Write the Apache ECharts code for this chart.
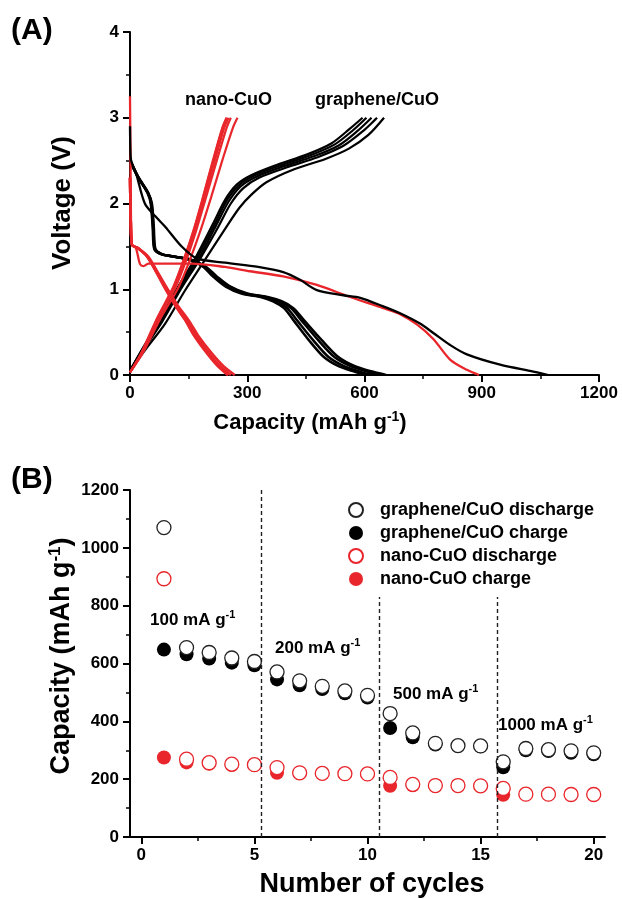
<!DOCTYPE html>
<html lang="en">
<head>
<meta charset="UTF-8">
<title>graphene/CuO vs nano-CuO</title>
<script src="https://cdn.jsdelivr.net/npm/echarts@6/dist/echarts.min.js"></script>
<style>body{margin:0;background:#fff;}</style>
</head>
<body>
<div id="main" style="width:622px;height:899px;"></div>
<script>
// (A) voltage profiles, [capacity, voltage]
var gcDischarge1 = [[0,2.9],[1,2.62],[3,2.5],[15,2.36],[38,2.0],[65,1.85],[90,1.73],[132,1.5],[171,1.36],[243,1.31],[328,1.26],[392,1.2],[435,1.11],[478,0.99],[546,0.93],[589,0.9],[648,0.8],[691,0.72],[742,0.6],[776,0.49],[819,0.35],[862,0.24],[947,0.12],[1032,0.04],[1070,0]];
var gcDischarge2 = [[0,2.5],[21,2.31],[47,2.12],[56,2.0],[61,1.72],[65,1.47],[82,1.41],[116,1.38],[160,1.34],[195,1.26],[222,1.15],[257,1.03],[300,0.95],[352,0.91],[388,0.86],[418,0.78],[445,0.64],[490,0.41],[533,0.21],[577,0.1],[620,0.04],[655,0]];
var gcDischarge3 = [[0,2.5],[21,2.31],[47,2.12],[55,2.0],[60,1.72],[64,1.47],[81,1.41],[115,1.38],[158,1.34],[193,1.26],[219,1.15],[254,1.03],[296,0.95],[347,0.91],[382,0.86],[412,0.78],[438,0.64],[481,0.41],[523,0.21],[566,0.1],[607,0.04],[640,0]];
var gcDischarge4 = [[0,2.5],[20,2.31],[46,2.12],[54,2.0],[59,1.72],[63,1.47],[80,1.41],[114,1.38],[156,1.34],[190,1.26],[215,1.15],[249,1.03],[290,0.95],[340,0.91],[373,0.86],[402,0.78],[427,0.64],[468,0.41],[508,0.21],[549,0.1],[588,0.04],[620,0]];
var gcDischarge5 = [[0,2.5],[20,2.31],[45,2.12],[53,2.0],[58,1.72],[62,1.47],[79,1.41],[113,1.38],[155,1.34],[188,1.26],[212,1.15],[245,1.03],[285,0.95],[334,0.91],[366,0.86],[394,0.78],[418,0.64],[457,0.41],[496,0.21],[535,0.1],[574,0.04],[605,0]];

var gcCharge1 = [[0,0.05],[40,0.3],[90,0.6],[140,0.98],[190,1.33],[240,1.68],[280,1.95],[310,2.1],[350,2.25],[420,2.4],[500,2.52],[560,2.64],[610,2.8],[650,3.0]];
var gcCharge2 = [[0,0.05],[35,0.3],[82,0.62],[130,1.0],[180,1.36],[225,1.72],[258,2.0],[290,2.18],[330,2.3],[400,2.42],[480,2.54],[545,2.67],[595,2.84],[632,3.0]];
var gcCharge3 = [[0,0.05],[33,0.3],[80,0.63],[127,1.0],[176,1.36],[220,1.74],[252,2.02],[283,2.2],[322,2.31],[390,2.43],[470,2.55],[535,2.68],[583,2.85],[618,3.0]];
var gcCharge4 = [[0,0.05],[32,0.3],[78,0.64],[124,1.01],[172,1.37],[216,1.75],[247,2.03],[278,2.21],[316,2.32],[382,2.44],[460,2.56],[524,2.69],[572,2.86],[605,3.0]];
var gcCharge5 = [[0,0.05],[31,0.3],[76,0.64],[122,1.02],[169,1.38],[212,1.76],[243,2.04],[273,2.22],[310,2.33],[375,2.45],[452,2.57],[515,2.7],[562,2.87],[595,3.0]];

var nanoDischarge1 = [[0,3.25],[1,2.7],[2,2.1],[3,1.7],[5,1.52],[15,1.48],[26,1.29],[35,1.27],[47,1.3],[158,1.3],[243,1.26],[307,1.21],[392,1.15],[478,1.05],[563,0.91],[648,0.78],[691,0.71],[734,0.59],[776,0.42],[819,0.18],[862,0.06],[893,0]];
var nanoDischarge2 = [[0,2.3],[2,1.8],[5,1.52],[21,1.48],[47,1.38],[72,1.19],[98,0.99],[124,0.8],[150,0.64],[176,0.45],[210,0.25],[240,0.1],[268,0]];
var nanoDischarge3 = [[0,2.3],[2,1.8],[5,1.52],[20,1.48],[45,1.38],[70,1.19],[95,0.99],[120,0.8],[145,0.64],[170,0.45],[203,0.25],[232,0.1],[258,0]];
var nanoDischarge4 = [[0,2.3],[2,1.8],[5,1.52],[20,1.48],[44,1.38],[69,1.19],[93,0.99],[118,0.8],[142,0.64],[166,0.45],[199,0.25],[227,0.1],[252,0]];
var nanoDischarge5 = [[0,2.3],[2,1.8],[5,1.52],[20,1.48],[44,1.38],[68,1.19],[92,0.99],[117,0.8],[141,0.64],[165,0.45],[197,0.25],[225,0.1],[250,0]];

var nanoCharge1 = [[0,0.03],[32,0.25],[78,0.66],[125,1.03],[153,1.34],[180,1.68],[208,2.08],[236,2.5],[263,2.88],[275,3.0]];
var nanoCharge2 = [[0,0.03],[30,0.25],[73,0.66],[117,1.03],[144,1.34],[169,1.68],[195,2.08],[222,2.5],[247,2.88],[258,3.0]];
var nanoCharge3 = [[0,0.03],[29,0.25],[71,0.66],[114,1.03],[140,1.34],[165,1.68],[191,2.08],[217,2.5],[241,2.88],[252,3.0]];
var nanoCharge4 = [[0,0.03],[29,0.25],[70,0.66],[112,1.03],[138,1.34],[163,1.68],[188,2.08],[213,2.5],[237,2.88],[248,3.0]];
var nanoCharge5 = [[0,0.03],[28,0.25],[69,0.66],[111,1.03],[137,1.34],[162,1.68],[187,2.08],[212,2.5],[236,2.88],[247,3.0]];

// (B) rate capability
var cycles = [1,2,3,4,5,6,7,8,9,10,11,12,13,14,15,16,17,18,19,20];
var gcDischarge = [1070,655,638,619,607,571,540,521,505,490,427,360,324,316,315,260,306,302,298,291];
var gcCharge = [648,632,617,603,594,545,525,512,497,482,377,345,320,315,314,241,300,297,291,286];
var nanoDischarge = [893,269,257,252,250,240,222,220,219,218,206,182,178,178,177,168,148,148,147,147];
var nanoCharge = [275,258,253,249,249,222,222,220,219,218,177,179,178,178,177,146,148,148,147,147];
var rateX = [5.3, 10.5, 15.75];
var rateTop = [1200, 830, 830];

var F = '"Liberation Sans", Arial, sans-serif';
var RED = '#e8262b';

function curve(data, color, width) {
    return {
        type: 'line', xAxisIndex: 0, yAxisIndex: 0,
        data: data, showSymbol: false, smooth: 0.3, silent: true,
        lineStyle: {color: color, width: width}
    };
}

function pairs(y) {
    var out = [];
    for (var i = 0; i < cycles.length; i++) {
        out.push([cycles[i], y[i]]);
    }
    return out;
}

// text block, optional superscript; closing bracket added back when the text has one open
function label(x, y, main, sup, size, color, align, rot) {
    var txt = '{a|' + main + '}';
    if (sup) txt += '{s|' + sup + '}';
    if (sup && main.indexOf('(') >= 0) txt += '{a|)}';
    var ss = Math.round(size * 0.62);
    return {
        type: 'text', x: x, y: y, rotation: rot || 0,
        style: {
            text: txt,
            align: align, textAlign: align,
            verticalAlign: 'middle', textVerticalAlign: 'middle',
            rich: {
                a: {fontSize: size, fontWeight: 'bold', fontFamily: F, color: color, lineHeight: size + 4},
                s: {fontSize: ss, fontWeight: 'bold', fontFamily: F, color: color, verticalAlign: 'top', lineHeight: ss}
            }
        }
    };
}

var plain = function (v) { return String(v); };
var axisFont = {color: '#000', fontSize: 17, fontWeight: 'bold', fontFamily: F};
var axLine = {show: true, onZero: false, lineStyle: {color: '#000', width: 2}};
var axTick = {show: true, length: 7, lineStyle: {color: '#000', width: 2}};
var minor = {show: true, splitNumber: 2, length: 4, lineStyle: {color: '#000', width: 1.5}};

var markLines = [];
for (var i = 0; i < rateX.length; i++) {
    markLines.push([{coord: [rateX[i], 0]}, {coord: [rateX[i], rateTop[i]]}]);
}

var series = [
    curve(gcCharge1, '#000', 2.2), curve(gcCharge2, '#000', 2.2), curve(gcCharge3, '#000', 2.2),
    curve(gcCharge4, '#000', 2.2), curve(gcCharge5, '#000', 2.2),
    curve(gcDischarge2, '#000', 2.5), curve(gcDischarge3, '#000', 2.5), curve(gcDischarge4, '#000', 2.5),
    curve(gcDischarge5, '#000', 2.5),
    curve(nanoCharge1, RED, 2.2), curve(nanoCharge2, RED, 2.2), curve(nanoCharge3, RED, 2.2),
    curve(nanoCharge4, RED, 2.2), curve(nanoCharge5, RED, 2.2),
    curve(nanoDischarge2, RED, 2.5), curve(nanoDischarge3, RED, 2.5), curve(nanoDischarge4, RED, 2.5),
    curve(nanoDischarge5, RED, 2.5),
    curve(nanoDischarge1, RED, 2.3),
    curve(gcDischarge1, '#000', 2.3),
    {
        type: 'line', xAxisIndex: 1, yAxisIndex: 1, data: [], silent: true,
        markLine: {
            silent: true, symbol: 'none', label: {show: false},
            lineStyle: {color: '#222', width: 1.4, type: [4, 3]},
            data: markLines
        }
    },
    {name: 'graphene/CuO charge', type: 'scatter', xAxisIndex: 1, yAxisIndex: 1, symbolSize: 14,
        itemStyle: {color: '#000', opacity: 1}, data: pairs(gcCharge)},
    {name: 'graphene/CuO discharge', type: 'scatter', xAxisIndex: 1, yAxisIndex: 1, symbolSize: 14,
        itemStyle: {color: '#fff', borderColor: '#222', borderWidth: 1.3, opacity: 1}, data: pairs(gcDischarge)},
    {name: 'nano-CuO charge', type: 'scatter', xAxisIndex: 1, yAxisIndex: 1, symbolSize: 14,
        itemStyle: {color: RED, opacity: 1}, data: pairs(nanoCharge)},
    {name: 'nano-CuO discharge', type: 'scatter', xAxisIndex: 1, yAxisIndex: 1, symbolSize: 14,
        itemStyle: {color: '#fff', borderColor: RED, borderWidth: 1.3, opacity: 1}, data: pairs(nanoDischarge)}
];

var myChart = echarts.init(document.getElementById('main'));
var option = {
    animation: false,
    backgroundColor: '#fff',
    grid: [
        {left: 130, top: 32, width: 469, height: 343},
        {left: 130, top: 490, width: 475, height: 347}
    ],
    xAxis: [
        {type: 'value', gridIndex: 0, min: 0, max: 1200, interval: 300,
            axisLine: axLine, axisTick: axTick, minorTick: minor, splitLine: {show: false},
            axisLabel: {margin: 10, formatter: plain, textStyle: axisFont}},
        {type: 'value', gridIndex: 1, min: -0.5, max: 20.5, position: 'bottom',
            axisLine: axLine, splitLine: {show: false},
            axisTick: {show: true, length: 7, lineStyle: {color: '#000', width: 2}, customValues: [0, 5, 10, 15, 20]},
            axisLabel: {margin: 10, formatter: plain, textStyle: axisFont, customValues: [0, 5, 10, 15, 20]}},
        {type: 'value', gridIndex: 1, min: -0.5, max: 20.5, position: 'bottom',
            axisLine: {show: false}, splitLine: {show: false}, axisLabel: {show: false},
            axisTick: {show: true, length: 4, lineStyle: {color: '#000', width: 1.5}, customValues: [2.5, 7.5, 12.5, 17.5]}}
    ],
    yAxis: [
        {type: 'value', gridIndex: 0, min: 0, max: 4, interval: 1,
            axisLine: axLine, axisTick: axTick, minorTick: minor, splitLine: {show: false},
            axisLabel: {margin: 11, formatter: plain, textStyle: axisFont}},
        {type: 'value', gridIndex: 1, min: 0, max: 1200, interval: 200,
            axisLine: axLine, axisTick: axTick, minorTick: minor, splitLine: {show: false},
            axisLabel: {margin: 11, formatter: plain, textStyle: axisFont}}
    ],
    legend: {
        data: ['graphene/CuO discharge', 'graphene/CuO charge', 'nano-CuO discharge', 'nano-CuO charge'],
        orient: 'vertical', left: 343, top: 496, itemWidth: 14, itemHeight: 14, itemGap: 5,
        selectedMode: false,
        textStyle: {color: '#000', fontSize: 18, fontWeight: 'bold', fontFamily: F, padding: [0, 0, 0, 12]}
    },
    graphic: [
        label(11, 31, '(A)', null, 30, '#000', 'left'),
        label(11, 480, '(B)', null, 30, '#000', 'left'),
        label(185, 100, 'nano-CuO', null, 18, RED, 'left'),
        label(315, 100, 'graphene/CuO', null, 18, '#000', 'left'),
        label(150, 620, '100 mA g', '-1', 17, '#000', 'left'),
        label(275, 648, '200 mA g', '-1', 17, '#000', 'left'),
        label(393, 694, '500 mA g', '-1', 17, '#000', 'left'),
        label(498, 725, '1000 mA g', '-1', 17, '#000', 'left'),
        label(63, 203, 'Voltage (V)', null, 26, '#000', 'center', Math.PI / 2),
        label(310, 423, 'Capacity (mAh g', '-1', 22, '#000', 'center'),
        label(62, 656, 'Capacity (mAh g', '-1', 27, '#000', 'center', Math.PI / 2),
        label(372, 885, 'Number of cycles', null, 27, '#000', 'center')
    ],
    series: series
};
myChart.setOption(option);
</script>
</body>
</html>
